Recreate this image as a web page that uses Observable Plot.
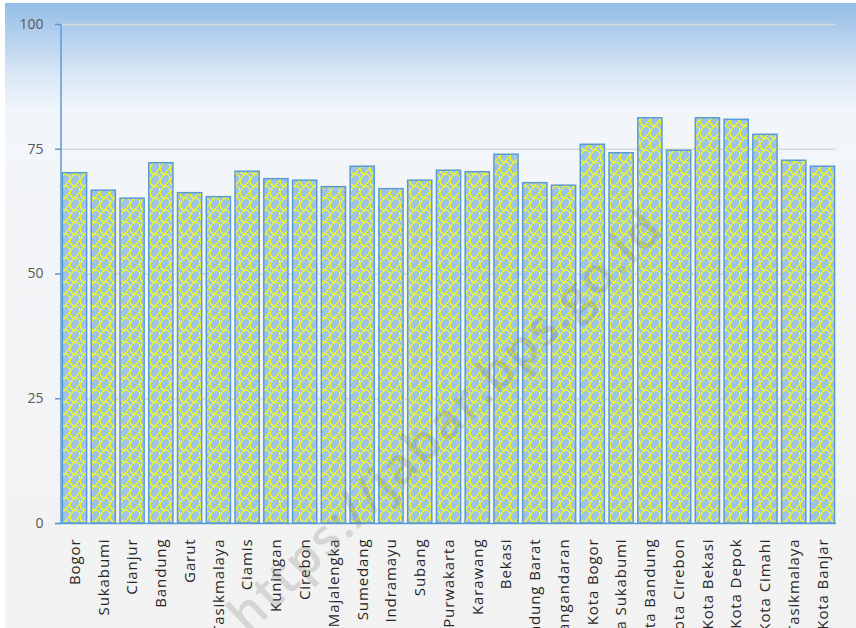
<!DOCTYPE html>
<html>
<head>
<meta charset="utf-8">
<script src="https://cdn.jsdelivr.net/npm/d3@7"></script>
<script src="https://cdn.jsdelivr.net/npm/@observablehq/plot@0.6"></script>
<style>
  html, body { margin: 0; padding: 0; background: #ffffff; }
  #wrap { position: relative; width: 856px; height: 628px; overflow: hidden; }
  #bg { position: absolute; left: 5px; top: 3px; right: 0; bottom: 0;
        background: linear-gradient(to bottom, #93bde7 0px, #b6d1ee 35px, #dde9f6 75px, #f2f6fb 110px, #f3f5f8 200px, #f2f2f2 628px); }
  #chart { position: absolute; left: 0; top: 0; }
  #wm { position: absolute; left: 444px; top: 420px; transform: translate(-50%, -50%) rotate(-44deg);
        font: 600 50px "Open Sans", sans-serif; letter-spacing: 2px; color: rgba(110,110,110,0.22); white-space: nowrap; pointer-events: none; }
</style>
</head>
<body>
<div id="wrap">
  <div id="bg"></div>
  <div id="chart"></div>
  <div id="wm">https://jabar.bps.go.id</div>
</div>
<script>
const regions = ["Bogor","Sukabumi","Cianjur","Bandung","Garut","Tasikmalaya","Ciamis","Kuningan","Cirebon","Majalengka","Sumedang","Indramayu","Subang","Purwakarta","Karawang","Bekasi","Bandung Barat","Pangandaran","Kota Bogor","Kota Sukabumi","Kota Bandung","Kota Cirebon","Kota Bekasi","Kota Depok","Kota Cimahi","Kota Tasikmalaya","Kota Banjar"];
const values = [70.2,66.7,65.1,72.2,66.2,65.4,70.5,69.0,68.7,67.4,71.5,67.0,68.7,70.7,70.4,73.9,68.2,67.7,75.9,74.2,81.2,74.7,81.2,80.9,77.9,72.7,71.5];
const yTicks = [0,25,50,75,100];

const data = regions.map((r, i) => ({region: r, value: values[i]}));
const axisBlue = "#5b9bd5";

const chart = Plot.plot({
  width: 856,
  height: 628,
  marginTop: 24,
  marginBottom: 105,
  marginLeft: 61,
  marginRight: 20,
  style: {background: "transparent", fontFamily: "'Open Sans', sans-serif"},
  x: {domain: regions, paddingInner: 0.16, paddingOuter: 0.05, round: false, axis: null},
  y: {domain: [0, 100], axis: null},
  marks: [
    Plot.gridY(yTicks.filter(d => d > 0), {stroke: "#d9d9d9", strokeOpacity: 1, strokeWidth: 1.5}),
    Plot.barY(data, {x: "region", y: "value", fill: "#9dc3e6", stroke: axisBlue, strokeWidth: 1.5}),
    Plot.ruleY([0], {stroke: axisBlue, strokeWidth: 1.5, insetLeft: -6}),
    Plot.tickY(yTicks, {y: d => d, stroke: axisBlue, strokeWidth: 1.5}),
    Plot.axisY({ticks: yTicks, tickSize: 0, tickPadding: 18, fontSize: 14, fill: "#595959", label: null, tickFormat: d => String(d)}),
    Plot.text(regions, {x: d => d, frameAnchor: "bottom", dy: 15, rotate: -90, textAnchor: "end", lineAnchor: "middle", fontSize: 15, fill: "#262626"})
  ]
});

document.getElementById("chart").appendChild(chart);

const svg = d3.select(chart);
const yRange = chart.scale("y").range;   // [bottom, top]
const xRange = chart.scale("x").range;   // [left, right]
const left = Math.min(...xRange);

// custom fill pattern
const defs = svg.insert("defs", ":first-child");
const pat = defs.append("pattern").attr("id", "wave").attr("patternUnits", "userSpaceOnUse")
  .attr("width", 10).attr("height", 12);
pat.append("rect").attr("width", 10).attr("height", 12).attr("fill", "#9dc3e6");
pat.append("path").attr("d", "M0,0 Q0,6 5,6 Q10,6 10,12 M10,0 Q7,3 5,6 M0,12 Q2,8 5,6")
  .attr("fill", "none").attr("stroke", "#ffff00").attr("stroke-width", 1.2);
svg.selectAll("g[aria-label='bar'] rect").attr("fill", "url(#wave)");

// tick marks: short lines left of the axis
svg.selectAll("g[aria-label='tick'] line").attr("x1", left - 6).attr("x2", left);

// vertical axis line along the frame's left edge
svg.append("line")
  .attr("x1", left).attr("x2", left)
  .attr("y1", Math.max(...yRange)).attr("y2", Math.min(...yRange))
  .attr("stroke", axisBlue).attr("stroke-width", 1.5);

svg.selectAll("g[aria-label='y-axis tick label'] text, g[aria-label='y-axis'] text")
  .style("font-size", "14px").attr("fill", "#595959");
svg.selectAll("g[aria-label='text'] text").style("letter-spacing", "0.9px");
</script>
</body>
</html>
